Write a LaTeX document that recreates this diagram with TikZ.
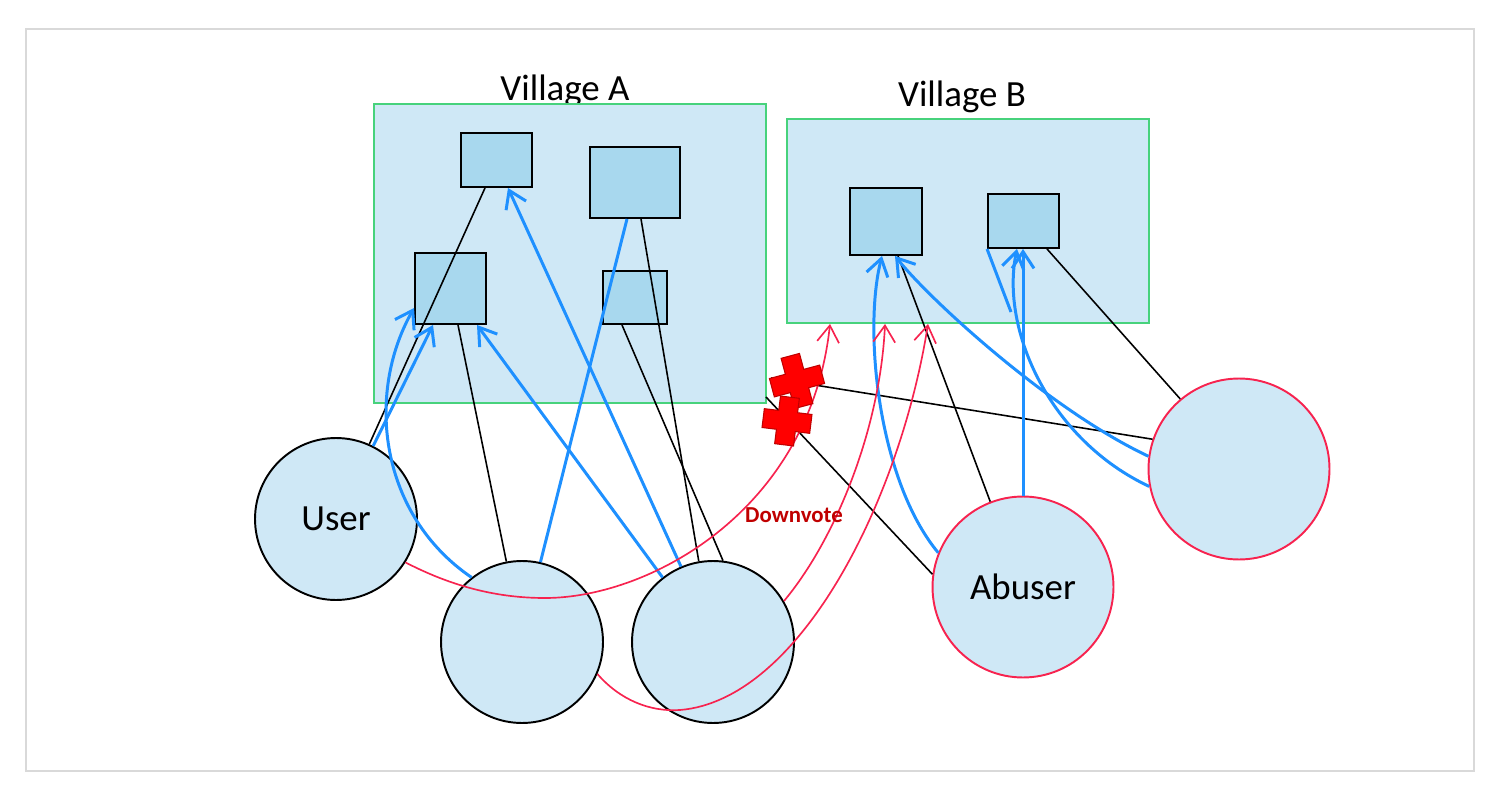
\documentclass[tikz,border=0pt]{standalone}
\usepackage{fontspec}
\setmainfont{Carlito}
\usetikzlibrary{arrows.meta,calc}
\definecolor{fillL}{HTML}{CFE8F6}
\definecolor{fillB}{HTML}{A8D8EE}
\definecolor{grn}{HTML}{47D27C}
\definecolor{blu}{HTML}{1E90FF}
\definecolor{rd}{HTML}{F7234F}
\definecolor{dred}{HTML}{C00000}
\definecolor{frm}{HTML}{D9D9D9}
\begin{document}
\begin{tikzpicture}[x=0.02cm,y=-0.02cm,
 village/.style={draw=grn, line width=1.1pt, fill=fillL, inner sep=0pt},
 member/.style={draw=black, line width=1.1pt, fill=fillB, inner sep=0pt},
 person/.style={circle, draw=black, line width=1.1pt, fill=fillL, inner sep=0pt, font=\fontsize{21}{25}\selectfont},
 bad/.style={person, draw=rd},
 title/.style={font=\fontsize{21}{25}\selectfont, anchor=base},
 tie/.style={draw=black, line width=0.9pt},
 vouch/.style={draw=blu, line width=1.7pt, -{Straight Barb[length=9.5pt,width=12.5pt]}},
 vline/.style={draw=blu, line width=1.7pt},
 down/.style={draw=rd, line width=0.95pt, -{Straight Barb[length=9.5pt,width=12.5pt]}},
 block/.style={fill=red, draw=dred, line width=0.6pt},
]
\useasboundingbox (0,0) rectangle (1500,800);
\draw[frm, line width=0.9pt] (26,29) rectangle (1474,771);

% titles (behind the village boxes)
\node[title] (tA) at (565,101) {Village A};
\node[title] (tB) at (962,107) {Village B};

% villages
\node[village, minimum width=7.84cm, minimum height=5.98cm] (VA) at (570,253.5) {};
\node[village, minimum width=7.24cm, minimum height=4.08cm] (VB) at (968,221) {};

% members
\node[member, minimum width=1.42cm, minimum height=1.08cm] (A1) at (496.5,160) {};
\node[member, minimum width=1.8cm, minimum height=1.42cm] (A2) at (635,182.5) {};
\node[member, minimum width=1.42cm, minimum height=1.42cm] (A3) at (450.5,288.5) {};
\node[member, minimum width=1.28cm, minimum height=1.06cm] (A4) at (635,297.5) {};
\node[member, minimum width=1.44cm, minimum height=1.34cm] (B1) at (886,221.5) {};
\node[member, minimum width=1.42cm, minimum height=1.08cm] (B2) at (1023.5,221) {};

% people
\node[person, minimum size=3.24cm] (U) at (336,519) {User};
\node[person, minimum size=3.24cm] (P2) at (522,642) {};
\node[person, minimum size=3.24cm] (P3) at (713,642) {};
\node[bad, minimum size=3.62cm] (Ab) at (1023,587) {Abuser};
\node[bad, minimum size=3.62cm] (P5) at (1239,469) {};

\coordinate (cutA) at (771,378);
\coordinate (cutB) at (766,397);
\coordinate (bm) at (1011,312);

% memberships
\draw[tie] (U.66) -- ([xshift=-0.23cm]A1.south);
\draw[tie] (P2.101) -- ([xshift=0.15cm]A3.south);
\draw[tie] (P3.100) -- ([xshift=0.12cm]A2.south);
\draw[tie] (P3.83) -- ([xshift=-0.26cm]A4.south);
\draw[tie] (Ab.111) -- ([xshift=0.24cm]B1.south);
\draw[tie] (P5.130) -- ([xshift=0.47cm]B2.south);
\draw[tie] (P5.161) -- (cutA);
\draw[tie] (Ab.172) -- (cutB);

% vouches
\draw[vouch] (U.63) -- ([xshift=-0.35cm]A3.south);
\draw[vouch] (P2.128) .. controls (380,515) and (365,395) .. ([yshift=-0.39cm]A3.west);
\draw[vouch] (P3.128) -- ([xshift=0.53cm]A3.south);
\draw[vouch] (P3.113) -- ([xshift=0.23cm]A1.south);
\draw[vline] (P2.77) -- ([xshift=-0.16cm]A2.south);
\draw[vouch] (Ab.158) .. controls (878,480) and (863,330) .. ([xshift=-0.08cm]B1.south);
\draw[vouch] (P5.172) .. controls (1050,410) and (930,300) .. ([xshift=0.18cm]B1.south);
\draw[vouch] (Ab.north) -- (Ab.north |- B2.south);
\draw[vouch] (P5.191) .. controls (1050,440) and (1000,330) .. ([xshift=-0.13cm]B2.south);
\draw[vline] (B2.south west) -- (bm);

% downvotes
\draw[down] (U.-32) .. controls (455,588) and (500,598) .. (545,598) .. controls (650,598) and (810,510) .. ([xshift=-2.76cm]VB.south);
\draw[down] (P3.30) .. controls (835,540) and (880,430) .. ([xshift=-1.66cm]VB.south);
\draw[down] (P2.-23) .. controls (620,700) and (650,712) .. (680,710) .. controls (800,700) and (900,500) .. ([xshift=-0.8cm]VB.south);
\node[font=\fontsize{13}{15}\selectfont\bfseries, text=dred, anchor=base] (dv) at (794,522) {Downvote};

% blocked marks
\filldraw[block, shift={(797,381)}, rotate=15] (-26,-9.5) -- (-9.5,-9.5) -- (-9.5,-26) -- (9.5,-26) -- (9.5,-9.5) -- (26,-9.5) -- (26,9.5) -- (9.5,9.5) -- (9.5,26) -- (-9.5,26) -- (-9.5,9.5) -- (-26,9.5) -- cycle;
\filldraw[block, shift={(787,421)}, rotate=-7] (-24,-9.5) -- (-9.5,-9.5) -- (-9.5,-24) -- (9.5,-24) -- (9.5,-9.5) -- (24,-9.5) -- (24,9.5) -- (9.5,9.5) -- (9.5,24) -- (-9.5,24) -- (-9.5,9.5) -- (-24,9.5) -- cycle;
\end{tikzpicture}
\end{document}
